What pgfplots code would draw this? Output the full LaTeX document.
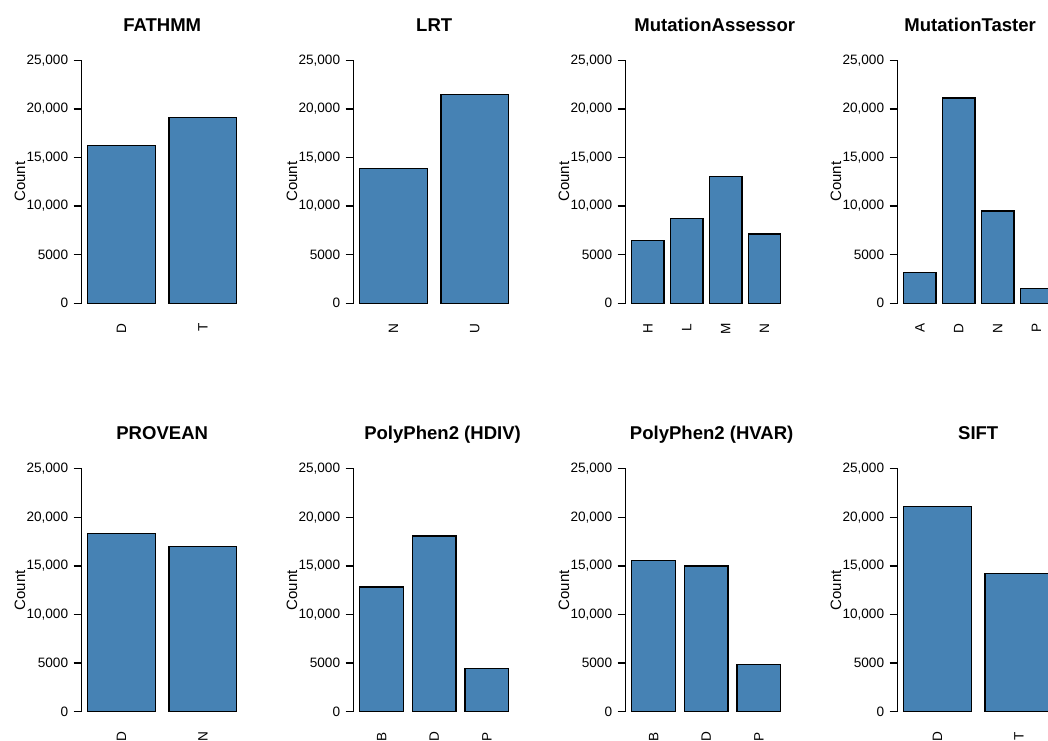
\documentclass[border=0pt]{standalone}
\usepackage{fontspec}
\setmainfont{Liberation Sans}
\usepackage{pgfplots}
\pgfplotsset{compat=1.18}
\definecolor{steelblue}{HTML}{4682B4}
\pgfplotsset{
  every axis title shift=0pt,
  panel/.style={
    scale only axis, width=120.75pt, height=182.25pt,
    ymin=0, ymax=25000,
    axis y line*=left, axis x line*=bottom,
    x axis line style={draw=none},
    y axis line style={line width=1pt, black},
    xtick style={draw=none},
    ytick style={line width=1pt, black},
    tick align=outside, major tick length=6pt,
    scaled y ticks=false,
    ytick={0,5000,10000,15000,20000,25000},
    yticklabels={0,5000,{10,000},{15,000},{20,000},{25,000}},
    yticklabel style={font=\fontsize{10.2pt}{12pt}\selectfont, inner sep=0pt, xshift=-4pt},
    xticklabel style={font=\fontsize{10.2pt}{12pt}\selectfont, rotate=90, anchor=east, inner sep=0pt},
    xticklabel shift=9pt,
    ylabel=Count,
    ylabel style={at={(axis description cs:-0.352,0.5)}, anchor=base, font=\fontsize{11.25pt}{13pt}\selectfont},
    title style={at={(axis description cs:0.5,1.1193)}, anchor=base, font=\fontsize{13.9pt}{16pt}\selectfont\bfseries},
    clip=false,
  },
  tx/.style={title style={at={(axis description cs:#1,1.1193)}}},
  n2/.style={xmin=0.112, xmax=2.488, xtick={0.7,1.9}},
  n3/.style={xmin=0.064, xmax=3.736, xtick={0.7,1.9,3.1}},
  n4/.style={xmin=0.016, xmax=4.984, xtick={0.7,1.9,3.1,4.3}},
  bars/.style={ybar, bar width=1, fill=steelblue, draw=black, line width=1pt},
}
\begin{document}
\begin{tikzpicture}
% Row 1
\begin{axis}[panel, n2, at={(61.275pt,327.525pt)}, anchor=south west, title={FATHMM}, xticklabels={D,T}]
\addplot[bars] coordinates {(0.7,16220) (1.9,19100)};
\end{axis}
\begin{axis}[panel, n2, at={(265.275pt,327.525pt)}, anchor=south west, title={LRT}, xticklabels={N,U}]
\addplot[bars] coordinates {(0.7,13890) (1.9,21500)};
\end{axis}
\begin{axis}[panel, n4, tx=0.553, at={(469.275pt,327.525pt)}, anchor=south west, title={MutationAssessor}, xticklabels={H,L,M,N}]
\addplot[bars] coordinates {(0.7,6450) (1.9,8710) (3.1,13030) (4.3,7130)};
\end{axis}
\begin{axis}[panel, n4, tx=0.45, at={(673.275pt,327.525pt)}, anchor=south west, title={MutationTaster}, xticklabels={A,D,N,P}]
\addplot[bars] coordinates {(0.7,3190) (1.9,21120) (3.1,9500) (4.3,1540)};
\end{axis}
% Row 2
\begin{axis}[panel, n2, at={(61.275pt,21.225pt)}, anchor=south west, title={PROVEAN}, xticklabels={D,N}]
\addplot[bars] coordinates {(0.7,18350) (1.9,16980)};
\end{axis}
\begin{axis}[panel, n3, tx=0.552, at={(265.275pt,21.225pt)}, anchor=south west, title={PolyPhen2 (HDIV)}, xticklabels={B,D,P}]
\addplot[bars] coordinates {(0.7,12830) (1.9,18070) (3.1,4460)};
\end{axis}
\begin{axis}[panel, n3, tx=0.534, at={(469.275pt,21.225pt)}, anchor=south west, title={PolyPhen2 (HVAR)}, xticklabels={B,D,P}]
\addplot[bars] coordinates {(0.7,15570) (1.9,14990) (3.1,4840)};
\end{axis}
\begin{axis}[panel, n2, at={(673.275pt,21.225pt)}, anchor=south west, title={SIFT}, xticklabels={D,T}]
\addplot[bars] coordinates {(0.7,21090) (1.9,14230)};
\end{axis}
\pgfresetboundingbox
\useasboundingbox (0pt,0pt) rectangle (786pt,555pt);
\end{tikzpicture}
\end{document}
